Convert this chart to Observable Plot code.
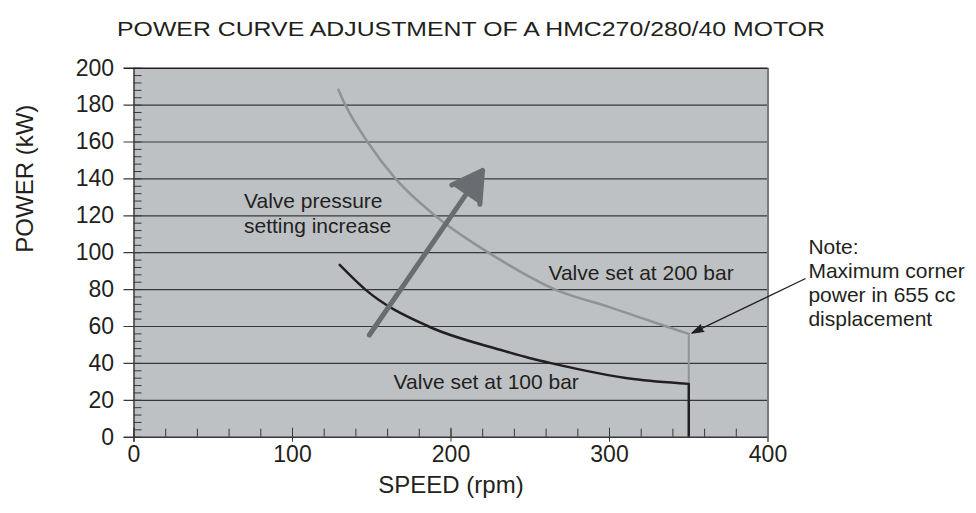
<!DOCTYPE html>
<html><head><meta charset="utf-8">
<script src="https://cdn.jsdelivr.net/npm/d3@7"></script>
<script src="https://cdn.jsdelivr.net/npm/@observablehq/plot@0.6"></script>
<style>
body{margin:0;background:#fff;}
#chart svg{display:block;}
</style></head><body><div id="chart"></div>
<script>
const title = "POWER CURVE ADJUSTMENT OF A HMC270/280/40 MOTOR";
const xLabel = "SPEED (rpm)";
const yLabel = "POWER (kW)";
const xTicks = [0, 100, 200, 300, 400];
const yTicks = [0, 20, 40, 60, 80, 100, 120, 140, 160, 180, 200];
const xMinor = d3.range(0, 401, 20);
const yMinor = d3.range(0, 201, 4);

// Valve set at 200 bar
const speed200 = [129, 133.4, 147.4, 165.1, 190.1, 229, 265.8, 300, 336, 350];
const power200 = [188.3, 180, 160, 140, 120, 97.2, 80, 70.5, 60, 56];
// Valve set at 100 bar
const speed100 = [129.8, 146, 185.9, 231, 250, 263.7, 315, 350];
const power100 = [93.4, 80, 60, 47.4, 42.8, 40, 31.5, 28.9];
const cornerSpeed = 350;

const labelText = ["Valve pressure", "setting increase", "Valve set at 200 bar", "Valve set at 100 bar"];
const labelX = [69.4, 69.4, 261.5, 163.8];
const labelY = [127.9, 114.2, 88.6, 29.9];

const noteText = ["Note:", "Maximum corner", "power in 655 cc", "displacement"];
const noteX = [425.5, 425.5, 425.5, 425.5];
const noteY = [103.0, 90.0, 77.0, 64.0];

// arrows: [x1, y1, x2, y2]
const pressureArrow = [148.5, 55.4, 219.9, 144.6];
const noteArrow = [423.4, 85.9, 352, 56.4];

const W = 976, H = 513, mL = 133.5, mR = 208.5, mT = 67.7, mB = 76.3;
const plotW = W - mL - mR, plotH = H - mT - mB;

const d200 = speed200.map((s, i) => ({x: s, y: power200[i]}));
const d100 = speed100.map((s, i) => ({x: s, y: power100[i]}));
const labels = labelText.map((t, i) => ({t, x: labelX[i], y: labelY[i]}));
const notes = noteText.map((t, i) => ({t, x: noteX[i], y: noteY[i]}));
const toArrow = a => [{x1: a[0], y1: a[1], x2: a[2], y2: a[3]}];

const ink = "#231f20";
const chart = Plot.plot({
  width: W, height: H,
  marginLeft: mL, marginRight: mR, marginTop: mT, marginBottom: mB,
  x: {domain: [0, 400]},
  y: {domain: [0, 200]},
  style: {fontFamily: "'Liberation Sans', Arial, sans-serif", color: ink, background: "#fff", overflow: "visible"},
  marks: [
    Plot.frame({fill: "#bdc1c4", stroke: null}),
    Plot.ruleY(yTicks.filter(d => d > 0 && d < 200), {stroke: "#38383a", strokeWidth: 1.2, insetLeft: -10}),
    Plot.ruleY(yMinor, {stroke: "#38383a", strokeWidth: 1, insetRight: plotW - 8}),
    Plot.ruleX(xMinor, {stroke: "#38383a", strokeWidth: 1, insetTop: plotH - 8}),
    Plot.ruleX(xTicks, {stroke: "#38383a", strokeWidth: 1, insetTop: plotH - 9, insetBottom: -5}),
    Plot.ruleX([0], {stroke: "#38383a", strokeWidth: 1.5, insetBottom: -5}),
    Plot.ruleX([400], {stroke: "#77797c", strokeWidth: 2, insetBottom: -5}),
    Plot.ruleY([0], {stroke: "#38383a", strokeWidth: 1.5, insetLeft: -10}),
    Plot.ruleY([200], {stroke: ink, strokeWidth: 1.5, insetLeft: -10}),
    Plot.axisY(yTicks, {tickSize: 0, tickPadding: 20, fontSize: 23, label: null}),
    Plot.axisX(xTicks, {tickSize: 0, tickPadding: 8.5, fontSize: 23, label: null}),
    Plot.line(d200, {x: "x", y: "y", stroke: "#909396", strokeWidth: 2.5, curve: "monotone-x"}),
    Plot.ruleX([{x: cornerSpeed, y1: power100[power100.length - 1], y2: power200[power200.length - 1]}],
      {x: "x", y1: "y1", y2: "y2", stroke: "#909396", strokeWidth: 2}),
    Plot.line(d100, {x: "x", y: "y", stroke: ink, strokeWidth: 2.5, curve: "monotone-x"}),
    Plot.ruleX([{x: cornerSpeed, y1: 0, y2: power100[power100.length - 1]}],
      {x: "x", y1: "y1", y2: "y2", stroke: ink, strokeWidth: 2.5}),
    Plot.arrow(toArrow(pressureArrow), {x1: "x1", y1: "y1", x2: "x2", y2: "y2",
      stroke: "#696c70", fill: "#696c70", strokeWidth: 5, headLength: 10.2, headAngle: 60}),
    Plot.arrow(toArrow(noteArrow), {x1: "x1", y1: "y1", x2: "x2", y2: "y2",
      stroke: ink, fill: ink, strokeWidth: 1.3, headLength: 13.8, headAngle: 35, clip: false}),
    Plot.text(labels, {x: "x", y: "y", text: "t", textAnchor: "start", fontSize: 21, fill: ink}),
    Plot.text(notes, {x: "x", y: "y", text: "t", textAnchor: "start", fontSize: 21, fill: ink, clip: false}),
    Plot.text([yLabel], {frameAnchor: "left", dx: -109, rotate: -90, fontSize: 24, fill: ink}),
    Plot.text([xLabel], {frameAnchor: "bottom", dy: 56, fontSize: 24, fill: ink}),
    Plot.text([title], {frameAnchor: "top", dx: 20, dy: -46, fontSize: 19.5, fill: ink})
  ]
});
d3.select(chart).selectAll("text").filter(function() { return this.textContent === title; })
  .attr("textLength", 708).attr("lengthAdjust", "spacingAndGlyphs");
document.getElementById("chart").appendChild(chart);
</script>
</body></html>
